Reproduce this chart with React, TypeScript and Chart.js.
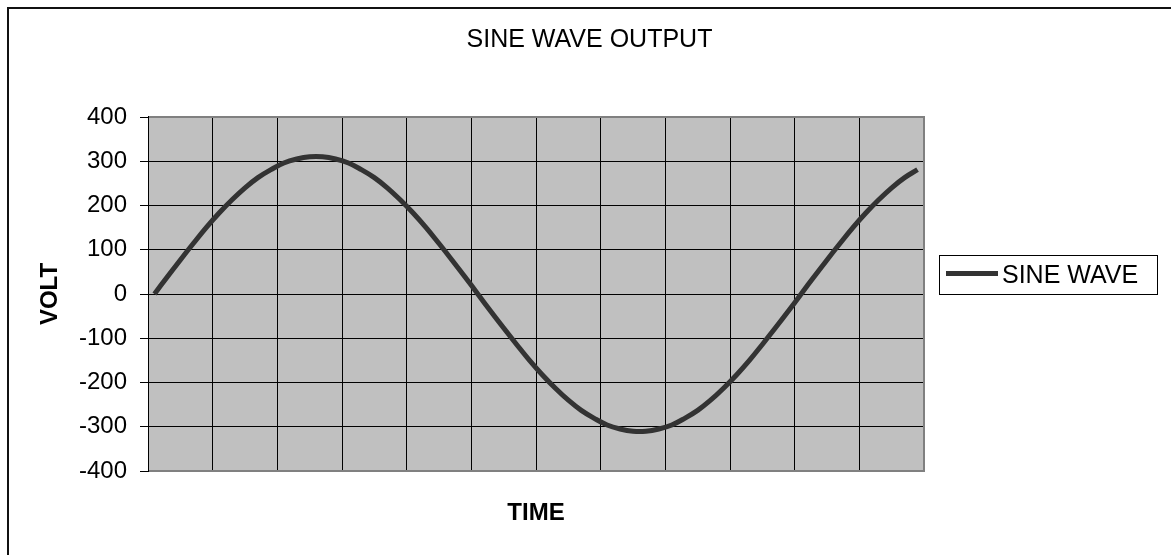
import React, { useEffect, useRef } from "react";
import { Chart, registerables } from "chart.js";

Chart.register(...registerables);

const chartTitle = "SINE WAVE OUTPUT";
const xAxisTitle = "TIME";
const yAxisTitle = "VOLT";
const seriesName = "SINE WAVE";

const timeLabels: string[] = [
  "1", "2", "3", "4", "5", "6", "7", "8", "9", "10",
  "11", "12", "13", "14", "15", "16", "17", "18", "19", "20",
  "21", "22", "23", "24", "25", "26", "27", "28", "29", "30",
  "31", "32", "33", "34", "35", "36", "37", "38", "39", "40",
  "41", "42", "43", "44", "45", "46", "47", "48", "49", "50",
  "51", "52", "53", "54", "55", "56", "57", "58", "59", "60",
];

const voltValues: number[] = [
  0, 39, 77, 114, 150, 183, 213, 240, 263, 281,
  296, 305, 310, 310, 305, 296, 281, 263, 240, 213,
  183, 150, 114, 77, 39, 0, -39, -77, -114, -150,
  -183, -213, -240, -263, -281, -296, -305, -310, -310, -305,
  -296, -281, -263, -240, -213, -183, -150, -114, -77, -39,
  0, 39, 77, 114, 150, 183, 213, 240, 263, 281,
];

const yTickValues: number[] = [-400, -300, -200, -100, 0, 100, 200, 300, 400];

const FONT = "'Liberation Sans', Arial, sans-serif";

const decorPlugin = {
  id: "decor",
  beforeDraw(chart: any) {
    const { ctx, chartArea } = chart;
    ctx.save();
    ctx.fillStyle = "#ffffff";
    ctx.fillRect(0, 0, chart.width, chart.height);
    ctx.fillStyle = "#c0c0c0";
    ctx.fillRect(chartArea.left, chartArea.top, chartArea.right - chartArea.left, chartArea.bottom - chartArea.top);
    ctx.restore();
  },
  afterDraw(chart: any) {
    const { ctx, chartArea } = chart;
    ctx.save();
    // plot border (top, right, bottom)
    ctx.strokeStyle = "#808080";
    ctx.lineWidth = 2;
    ctx.beginPath();
    ctx.moveTo(chartArea.left, chartArea.top);
    ctx.lineTo(chartArea.right, chartArea.top);
    ctx.lineTo(chartArea.right, chartArea.bottom);
    ctx.lineTo(chartArea.left, chartArea.bottom);
    ctx.stroke();
    // left axis line
    ctx.strokeStyle = "#000000";
    ctx.lineWidth = 1;
    ctx.beginPath();
    ctx.moveTo(chartArea.left + 0.5, chartArea.top - 1);
    ctx.lineTo(chartArea.left + 0.5, chartArea.bottom + 1);
    ctx.stroke();
    // outer frame
    ctx.strokeStyle = "#111111";
    ctx.lineWidth = 2;
    ctx.strokeRect(8, 8, chart.width + 20, chart.height + 20);
    // title
    ctx.fillStyle = "#000000";
    ctx.font = `25px ${FONT}`;
    ctx.textAlign = "center";
    ctx.textBaseline = "middle";
    ctx.fillText(chartTitle, 589.5, 40);
    // legend
    const ds = chart.data.datasets[0];
    ctx.strokeStyle = "#000000";
    ctx.lineWidth = 1;
    ctx.strokeRect(939.5, 255.5, 218, 39);
    ctx.strokeStyle = ds.borderColor;
    ctx.lineWidth = 5;
    ctx.beginPath();
    ctx.moveTo(946, 273.5);
    ctx.lineTo(998, 273.5);
    ctx.stroke();
    ctx.fillStyle = "#000000";
    ctx.font = `25px ${FONT}`;
    ctx.textAlign = "left";
    ctx.textBaseline = "middle";
    ctx.fillText(ds.label, 1002, 276);
    ctx.restore();
  },
};

export default function App() {
  const canvasRef = useRef<HTMLCanvasElement | null>(null);

  useEffect(() => {
    const canvas = canvasRef.current;
    if (!canvas) return;
    const chart = new Chart(canvas, {
      type: "line",
      data: {
        labels: timeLabels,
        datasets: [
          {
            label: seriesName,
            data: voltValues,
            borderColor: "#333333",
            backgroundColor: "#333333",
            borderWidth: 5,
            pointRadius: 0,
            tension: 0.4,
            fill: false,
          },
        ],
      },
      options: {
        responsive: false,
        animation: false,
        devicePixelRatio: 1,
        layout: { padding: { left: 0, top: 117, right: 247, bottom: 0 } },
        plugins: {
          legend: { display: false },
          title: { display: false },
          tooltip: { enabled: false },
        },
        scales: {
          x: {
            type: "category",
            offset: true,
            border: { display: false },
            grid: {
              offset: true,
              drawTicks: false,
              lineWidth: 1,
              color: (c: any) => (typeof c.index === "number" && c.index % 5 === 0 ? "#000000" : "rgba(0,0,0,0)"),
            },
            ticks: { display: false, autoSkip: false },
            title: {
              display: true,
              text: xAxisTitle,
              color: "#000000",
              font: { family: FONT, size: 24, weight: "bold", lineHeight: 1.2 },
              padding: { top: 0, bottom: 27.6 },
            },
            afterFit(scale: any) {
              scale.height = 84;
            },
          },
          y: {
            min: -400,
            max: 400,
            border: { display: false },
            afterBuildTicks(scale: any) {
              scale.ticks = yTickValues.map((v) => ({ value: v }));
            },
            grid: {
              color: "#000000",
              lineWidth: 1,
              tickLength: 8,
              tickColor: "#000000",
            },
            ticks: {
              color: "#000000",
              padding: 13,
              font: { family: FONT, size: 24 },
            },
            title: {
              display: true,
              text: yAxisTitle,
              color: "#000000",
              font: { family: FONT, size: 24, weight: "bold", lineHeight: 1.2 },
              padding: { top: 35.5, bottom: 0 },
            },
            afterFit(scale: any) {
              scale.width = 148;
            },
          },
        },
      },
      plugins: [decorPlugin],
    } as any);
    return () => chart.destroy();
  }, []);

  return (
    <div style={{ position: "fixed", left: 0, top: 0, width: 1171, height: 555, background: "#fff" }}>
      <canvas ref={canvasRef} width={1171} height={555} style={{ display: "block" }} />
    </div>
  );
}
